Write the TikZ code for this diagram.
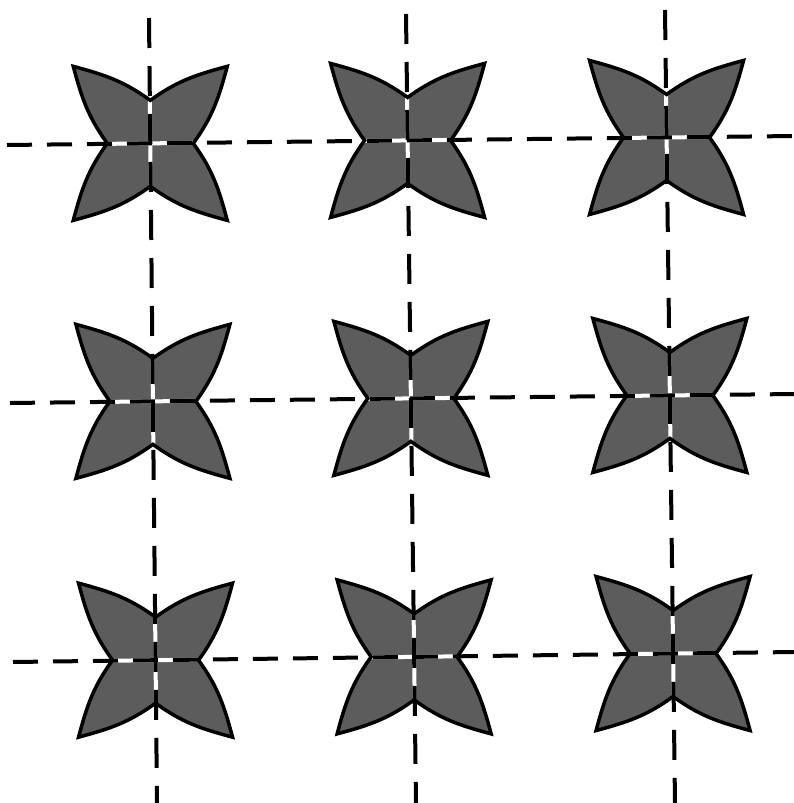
\documentclass[tikz,border=0pt]{standalone}
\begin{document}
\definecolor{petalgray}{gray}{0.36}
\tikzset{
  gridline/.style={line width=4pt, black, line cap=butt},
  hdash/.style={gridline, dash pattern=on 25pt off 15pt},
  vdash/.style={gridline, dash pattern=on 30pt off 18pt},
  underline/.style={line width=4pt, white},
  petalfill/.style={fill=petalgray},
  petaledge/.style={draw=black, line width=3.5pt, line join=miter},
}
\newcommand\petalpath{(-77,-77) to[out=-15,in=144] (0,-43) to[out=36,in=195] (77,-77)
  to[out=255,in=54] (43,0) to[out=-54,in=105] (77,77)
  to[out=165,in=-36] (0,43) to[out=216,in=15] (-77,77)
  to[out=75,in=234] (-43,0) to[out=126,in=285] cycle}
\begin{tikzpicture}[x=1pt,y=-1pt]
\fill[white] (0,0) rectangle (794,803);
\useasboundingbox (0,0) rectangle (794,803);
% grid line ends
\coordinate (h1a) at (7,145);  \coordinate (h1b) at (794,136);
\coordinate (h2a) at (10,403); \coordinate (h2b) at (794,394);
\coordinate (h3a) at (13,662); \coordinate (h3b) at (794,652);
\coordinate (v1a) at (149,18); \coordinate (v1b) at (157,803);
\coordinate (v2a) at (406,14); \coordinate (v2b) at (416,803);
\coordinate (v3a) at (665,10); \coordinate (v3b) at (675,803);
% star centres
\foreach \r in {1,2,3}{
  \foreach \c in {1,2,3}{
    \coordinate (s\r\c) at (intersection of h\r a--h\r b and v\c a--v\c b);
  }
}
% fills
\foreach \r in {1,2,3}{
  \foreach \c in {1,2,3}{
    \path[petalfill, shift={(s\r\c)}] \petalpath;
  }
}
% white lines under the dashes (visible only inside the stars)
\foreach \i in {1,2,3}{
  \draw[underline] (h\i a) -- (h\i b);
  \draw[underline] (v\i a) -- (v\i b);
}
% outlines
\foreach \r in {1,2,3}{
  \foreach \c in {1,2,3}{
    \path[petaledge, shift={(s\r\c)}] \petalpath;
  }
}
% dashed lines
\foreach \i in {1,2,3}{
  \draw[hdash] (h\i a) -- (h\i b);
  \draw[vdash] (v\i a) -- (v\i b);
}
\end{tikzpicture}
\end{document}
